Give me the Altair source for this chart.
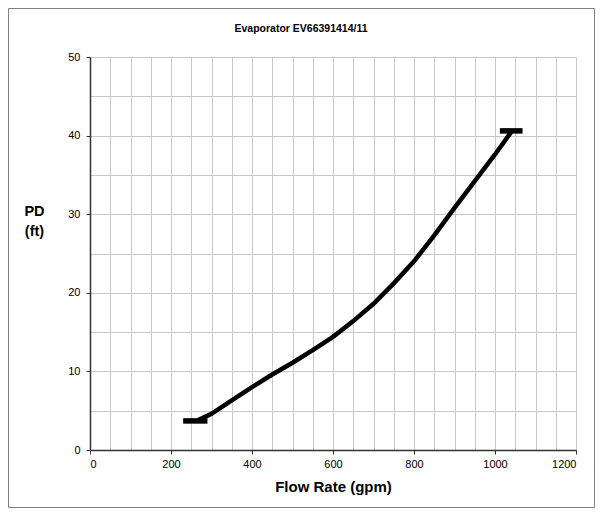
import altair as alt
import pandas as pd

TITLE = "Evaporator EV66391414/11"

# Curve data
flow = [267, 300, 350, 400, 450, 500, 550, 600, 650, 700, 750, 800, 850, 900, 950, 1000, 1042]
pdrop = [3.8, 4.6, 6.3, 8.0, 9.6, 11.1, 12.7, 14.4, 16.4, 18.6, 21.2, 24.0, 27.3, 30.8, 34.2, 37.6, 40.6]

# End caps (min / max flow markers)
cap_x1 = [230, 1012]
cap_x2 = [290, 1068]
cap_y = [3.7, 40.6]

x_grid = list(range(0, 1201, 50))
y_grid = list(range(0, 51, 5))
x_labels = list(range(0, 1201, 200))
y_labels = list(range(0, 51, 10))

curve = pd.DataFrame({"flow": flow, "pd": pdrop})
caps = pd.DataFrame({"x1": cap_x1, "x2": cap_x2, "y": cap_y})
title_df = pd.DataFrame({"t": [TITLE]})

W, H = 486, 393
FONT = "Liberation Sans"

xs = alt.Scale(domain=[0, 1200], nice=False)
ys = alt.Scale(domain=[0, 50], nice=False)

grid_layer = alt.Chart(curve).mark_line(opacity=0).encode(
    x=alt.X("flow:Q", scale=xs, axis=alt.Axis(values=x_grid, grid=True, labels=False, ticks=False,
                                              domain=False, title=None, orient="bottom",
                                              gridColor="#c8c8c8", gridWidth=1)),
    y=alt.Y("pd:Q", scale=ys, axis=alt.Axis(values=y_grid, grid=True, labels=False, ticks=False,
                                            domain=False, title=None, orient="left",
                                            gridColor="#c8c8c8", gridWidth=1)),
)

line_layer = alt.Chart(curve).mark_line(color="black", strokeWidth=4.5, strokeCap="butt").encode(
    x=alt.X("flow:Q", scale=xs, axis=alt.Axis(values=x_labels, grid=False, orient="bottom", format="d",
                                              title="Flow Rate (gpm)", titleFontSize=15,
                                              titleFontWeight="bold", titleFont=FONT,
                                              titleColor="black", titlePadding=10,
                                              labelFont=FONT, labelFontSize=11, labelColor="black",
                                              labelPadding=4, tickSize=4, tickColor="#333",
                                              domainColor="#333", domainWidth=1.5)),
    y=alt.Y("pd:Q", scale=ys, axis=alt.Axis(values=y_labels, grid=False, orient="left", format="d",
                                            title=["PD", "(ft)"], titleAngle=0, titleFontSize=14.5,
                                            titleFontWeight="bold", titleFont=FONT, titleColor="black",
                                            titleAlign="center", titleBaseline="top",
                                            titleX=-56, titleY=147, titleLineHeight=20,
                                            labelFont=FONT, labelFontSize=11, labelColor="black",
                                            labelPadding=6, tickSize=4, tickColor="#333",
                                            domainColor="#333", domainWidth=1.5)),
)

cap_layer = alt.Chart(caps).mark_rule(color="black", strokeWidth=5.5).encode(
    x=alt.X("x1:Q", scale=xs, axis=None),
    x2="x2:Q",
    y=alt.Y("y:Q", scale=ys, axis=None),
)

frame = alt.Chart(title_df).mark_rect(fill=None, stroke="#808080", strokeWidth=1).encode(
    x=alt.value(-81.5), x2=alt.value(W + 18.5), y=alt.value(-48.5), y2=alt.value(H + 57.5)
)

title_layer = alt.Chart(title_df).mark_text(
    font=FONT, fontSize=10.5, fontWeight="bold", color="black", align="center", baseline="middle"
).encode(text="t:N", x=alt.value(211), y=alt.value(-28))

chart = alt.layer(grid_layer, frame, line_layer, cap_layer, title_layer).resolve_axis(
    x="independent", y="independent"
).properties(
    width=W, height=H,
    autosize=alt.AutoSizeParams(type="none"),
    padding={"left": 82, "top": 49, "right": 19, "bottom": 58},
).configure_view(stroke="#666", strokeWidth=1.5).configure(background="white")

chart.save("out.html", embed_options={"renderer": "svg", "actions": False})
